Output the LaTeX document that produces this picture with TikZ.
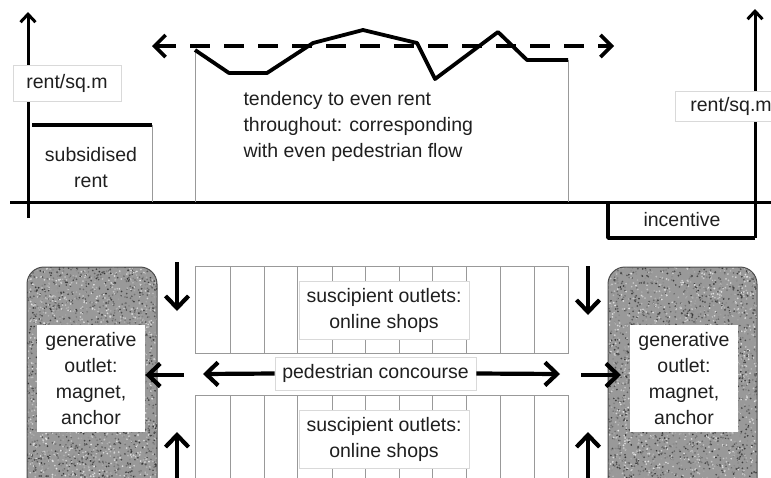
\documentclass[tikz,border=0pt]{standalone}
\usepackage{fontspec}
\setmainfont{Liberation Sans}
\usetikzlibrary{arrows.meta}
\begin{document}
\begin{tikzpicture}[x=1pt,y=-1pt,
  txt/.style={font=\fontsize{19.5}{26}\selectfont, text=black!88, align=center},
  lbl/.style={txt, draw=black!15, line width=0.8pt, fill=white, inner sep=0pt},
  thinline/.style={draw=black!40, line width=1pt},
  thk/.style={line width=3.8pt, line join=round},
  axisarrow/.style={line width=3pt, -{Straight Barb[length=8pt,width=15pt,line width=3pt]}},
  bigarrow/.style={line width=4.2pt, -{Straight Barb[length=12pt,width=23pt,line width=4.2pt]}},
  dasharrow/.style={line width=3.6pt, dash pattern=on 20pt off 14pt,
     {Straight Barb[length=11pt,width=22pt,line width=3.6pt]}-{Straight Barb[length=11pt,width=22pt,line width=3.6pt]}},
  whitebox/.style={txt, fill=white, inner sep=0pt},
]
\useasboundingbox (0,0) rectangle (771,477);

% ---------- upper graph ----------
\coordinate (laxB) at (28,218);
\coordinate (laxT) at (28,12);
\coordinate (hL) at (10,202);
\coordinate (hR) at (771,202);
\draw[line width=3pt] (hL) -- (hR);
\draw[axisarrow] (laxB) -- (laxT);

\node[lbl, minimum width=108pt, minimum height=36pt] (rentL) at (67,83) {rent/sq.m};

% subsidised
\coordinate (s1) at (32,125);
\coordinate (s2) at (152,125);
\coordinate (s3) at (152,202);
\draw[thinline] (s2) -- (s3);
\draw[thk] (s1) -- (s2);
\node[txt] (subs) at (91,168) {subsidised\\rent};

% middle band
\coordinate (m1) at (195,50);
\coordinate (m1b) at (195,202);
\coordinate (m10) at (568,60);
\coordinate (m10b) at (568,202);
\draw[thinline] (m1) -- (m1b);
\draw[thinline] (m10) -- (m10b);
\draw[thk] (m1) -- (229,73) -- (267,73) -- (313,43) -- (363,30) -- (417,43)
   -- (435,79) -- (498,32) -- (527,60) -- (m10);
\coordinate (dL) at (152,46);
\coordinate (dR) at (614,46);
\draw[dasharrow] (dL) -- (dR);
\node[txt, align=left, anchor=west] (tend) at (240,126)
  {tendency to even rent\\throughout: corresponding\\with even pedestrian flow};

% right axis
\coordinate (raxB) at (755,238);
\coordinate (raxT) at (755,9);
\coordinate (i1) at (608,202);
\coordinate (i2) at (608,238);
\draw[thk] (i1) -- (i2) -- (raxB);
\draw[axisarrow] (raxB) -- (raxT);
\node[lbl, minimum width=110pt, minimum height=30pt, anchor=west, text width=104pt, align=left, inner sep=0pt] (rentR) at (675,106.5) {\hspace*{12pt}rent/sq.m};
\node[txt] (inc) at (682,220) {incentive};

% ---------- lower plan ----------
% textured magnet boxes
\foreach \bx/\bw [count=\k] in {27/130, 608/149} {
  \begin{scope}
    \clip[rounded corners=17pt] (\bx,267) rectangle ({\bx+\bw},500);
    \fill[black!40] (\bx,267) rectangle ({\bx+\bw},500);
    \pgfmathsetseed{\k*17}
    \foreach \i in {1,...,3200} {
      \pgfmathsetmacro{\xx}{\bx+rnd*\bw}
      \pgfmathsetmacro{\yy}{267+rnd*215}
      \pgfmathsetmacro{\gg}{int(10+rnd*70)}
      \fill[black!\gg] (\xx,\yy) circle (0.95pt);
    }
  \end{scope}
  \draw[black!70, line width=1pt, rounded corners=17pt] (\bx,500) -- (\bx,267) -- ({\bx+\bw},267) -- ({\bx+\bw},500);
}
\node[whitebox, minimum width=108pt, minimum height=107pt] (genL) at (91,378.5)
  {generative\\outlet:\\magnet,\\anchor};
\node[whitebox, minimum width=108pt, minimum height=107pt] (genR) at (684,378.5)
  {generative\\outlet:\\magnet,\\anchor};

% shop strips
\draw[thinline] (195,266) rectangle (568,353);
\foreach \x in {230,264,297,332,365,399,432,466,500,534}
  \draw[thinline] (\x,266) -- (\x,353);
\draw[thinline] (195,490) -- (195,395) -- (568,395) -- (568,490);
\foreach \x in {230,264,297,332,365,399,432,466,500,534}
  \draw[thinline] (\x,395) -- (\x,490);
\node[lbl, minimum width=170pt, minimum height=58pt] (shopT) at (384,310)
  {suscipient outlets:\\online shops};
\node[lbl, minimum width=170pt, minimum height=58pt] (shopB) at (384,439)
  {suscipient outlets:\\online shops};

% concourse
\node[lbl, minimum width=201pt, minimum height=33pt] (conc) at (375.5,373.5)
  {pedestrian concourse};
\coordinate (cL) at (203,374);
\coordinate (cR) at (560,374);
\draw[bigarrow] (conc.west) -- (cL);
\draw[bigarrow] (conc.east) -- (cR);

% arrows near magnets
\coordinate (aL0) at (184,375);
\coordinate (aR0) at (581,375);
\coordinate (aR1) at (621,375);
\draw[bigarrow] (aL0) -- (aL0 -| genL.east);
\draw[bigarrow] (aR0) -- (aR1);

\coordinate (dLt) at (177,262);
\coordinate (dLb) at (177,311);
\coordinate (dRt) at (588,266);
\coordinate (dRb) at (588,315);
\draw[bigarrow] (dLt) -- (dLb);
\draw[bigarrow] (dRt) -- (dRb);

\coordinate (uLb) at (177,480);
\coordinate (uLt) at (177,432);
\coordinate (uRb) at (588,480);
\coordinate (uRt) at (588,432);
\draw[bigarrow] (uLb) -- (uLt);
\draw[bigarrow] (uRb) -- (uRt);
\end{tikzpicture}
\end{document}
